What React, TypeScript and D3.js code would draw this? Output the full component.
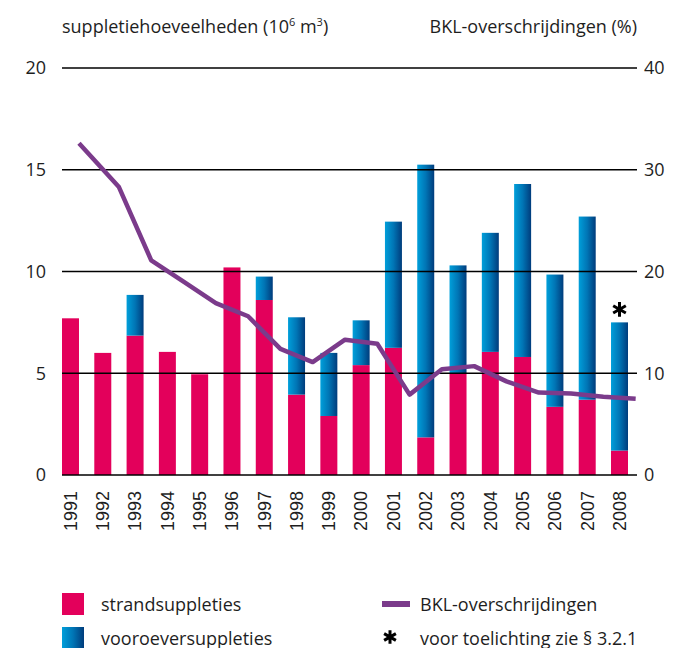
import React, { useEffect, useRef } from 'react';
import * as d3 from 'd3';

const years = [
  '1991', '1992', '1993', '1994', '1995', '1996', '1997', '1998', '1999',
  '2000', '2001', '2002', '2003', '2004', '2005', '2006', '2007', '2008'
];
// strandsuppleties (10^6 m3)
const strand = [7.7, 6.0, 6.85, 6.05, 4.95, 10.2, 8.6, 3.95, 2.9, 5.4, 6.25, 1.85, 5.0, 6.05, 5.8, 3.35, 3.7, 1.2];
// vooroeversuppleties (10^6 m3)
const vooroever = [0, 0, 2.0, 0, 0, 0, 1.15, 3.8, 3.1, 2.2, 6.2, 13.4, 5.3, 5.85, 8.5, 6.5, 9.0, 6.3];
// BKL-overschrijdingen (%)
const bkl = [32.6, 28.3, 21.1, 19.0, 16.9, 15.6, 12.4, 11.1, 13.3, 12.9, 7.9, 10.4, 10.7, 9.2, 8.1, 8.0, 7.7, 7.5];

const leftTicks = [0, 5, 10, 15, 20];
const rightTicks = [0, 10, 20, 30, 40];

const PINK = '#e3005b';
const PURPLE = '#7b3b8b';
const FONT = '"Open Sans", sans-serif';
const TEXT = '#1e1e1e';

const App = () => {
  const ref = useRef<SVGSVGElement>(null);

  useEffect(() => {
    const svg = d3.select(ref.current);
    svg.selectAll('*').remove();

    const plotLeft = 62;
    const plotRight = 637;
    const yLeft = d3.scaleLinear().domain([0, 20]).range([475, 68]);
    const yRight = d3.scaleLinear().domain([0, 40]).range([475, 68]);

    const x = d3.scaleBand<string>().domain(years).range([62, 628]).paddingInner(0.474).paddingOuter(0);
    const bw = x.bandwidth();
    const gap = x.step() - bw;

    const defs = svg.append('defs');
    const grad = defs.append('linearGradient').attr('id', 'blueGrad').attr('x1', '0%').attr('x2', '100%').attr('y1', '0%').attr('y2', '0%');
    grad.append('stop').attr('offset', '0%').attr('stop-color', '#009fda');
    grad.append('stop').attr('offset', '50%').attr('stop-color', '#0075b5');
    grad.append('stop').attr('offset', '100%').attr('stop-color', '#003c7c');

    const rows = years.map((y, i) => ({ year: y, strand: strand[i], vooroever: vooroever[i] }));
    const stacked = d3.stack<any>().keys(['strand', 'vooroever'])(rows);
    const fills = [PINK, 'url(#blueGrad)'];

    stacked.forEach((layer, li) => {
      svg.append('g')
        .selectAll('rect')
        .data(layer)
        .join('rect')
        .attr('x', (d: any) => x(d.data.year) as number)
        .attr('width', bw)
        .attr('y', (d: any) => yLeft(d[1]))
        .attr('height', (d: any) => yLeft(d[0]) - yLeft(d[1]))
        .attr('fill', fills[li]);
    });

    // gridlines
    svg.append('g')
      .selectAll('line')
      .data(leftTicks)
      .join('line')
      .attr('x1', plotLeft)
      .attr('x2', plotRight)
      .attr('y1', (d) => yLeft(d))
      .attr('y2', (d) => yLeft(d))
      .attr('stroke', '#000')
      .attr('stroke-width', 1.5);

    // left axis labels
    svg.append('g')
      .selectAll('text')
      .data(leftTicks)
      .join('text')
      .attr('x', 46)
      .attr('y', (d) => yLeft(d))
      .attr('dy', '0.35em')
      .attr('text-anchor', 'end')
      .attr('font-family', FONT)
      .attr('font-size', 18)
      .attr('fill', TEXT)
      .text((d) => d);

    // right axis labels
    svg.append('g')
      .selectAll('text')
      .data(rightTicks)
      .join('text')
      .attr('x', 644)
      .attr('y', (d) => yRight(d))
      .attr('dy', '0.35em')
      .attr('text-anchor', 'start')
      .attr('font-family', FONT)
      .attr('font-size', 18)
      .attr('fill', TEXT)
      .text((d) => d);

    // year labels
    svg.append('g')
      .selectAll('text')
      .data(years)
      .join('text')
      .attr('transform', (d) => `translate(${(x(d) as number) + bw / 2},491) rotate(-90)`)
      .attr('dy', '0.35em')
      .attr('text-anchor', 'end')
      .attr('font-family', '"Liberation Sans", Arial, sans-serif')
      .attr('font-size', 18)
      .attr('fill', TEXT)
      .text((d) => d);

    // BKL line
    const line = d3.line<number>()
      .x((d, i) => (x(years[i]) as number) + bw + (i === 0 ? 0 : gap / 2))
      .y((d) => yRight(d));
    svg.append('path')
      .datum(bkl)
      .attr('d', line)
      .attr('fill', 'none')
      .attr('stroke', PURPLE)
      .attr('stroke-width', 4.5)
      .attr('stroke-linejoin', 'round');

    // asterisk above 2008
    const last = years[years.length - 1];
    svg.append('path')
      .attr('d', d3.symbol().type(d3.symbolAsterisk).size(150)())
      .attr('transform', `translate(${(x(last) as number) + bw / 2},${yLeft(strand[17] + vooroever[17]) - 13})`)
      .attr('fill', 'none')
      .attr('stroke', '#000')
      .attr('stroke-width', 3);

    // axis titles
    const t1 = svg.append('text')
      .attr('x', 62)
      .attr('y', 33)
      .attr('font-family', FONT)
      .attr('font-size', 18)
      .attr('fill', TEXT);
    t1.append('tspan').text('suppletiehoeveelheden (10');
    t1.append('tspan').attr('font-size', 11).attr('dy', -7).text('6');
    t1.append('tspan').attr('dy', 7).text(' m');
    t1.append('tspan').attr('font-size', 11).attr('dy', -7).text('3');
    t1.append('tspan').attr('dy', 7).text(')');

    svg.append('text')
      .attr('x', 637)
      .attr('y', 33)
      .attr('text-anchor', 'end')
      .attr('font-family', FONT)
      .attr('font-size', 18)
      .attr('fill', TEXT)
      .text('BKL-overschrijdingen (%)');

    // legend
    const leg = svg.append('g').attr('font-family', FONT).attr('font-size', 18).attr('fill', TEXT);
    leg.append('rect').attr('x', 62).attr('y', 593).attr('width', 22).attr('height', 22).attr('fill', PINK);
    leg.append('text').attr('x', 101).attr('y', 611).text('strandsuppleties');
    leg.append('rect').attr('x', 62).attr('y', 627).attr('width', 22).attr('height', 22).attr('fill', 'url(#blueGrad)');
    leg.append('text').attr('x', 101).attr('y', 645).text('vooroeversuppleties');

    leg.append('line').attr('x1', 382).attr('x2', 410).attr('y1', 604).attr('y2', 604).attr('stroke', PURPLE).attr('stroke-width', 6);
    leg.append('text').attr('x', 420).attr('y', 611).text('BKL-overschrijdingen');
    leg.append('path')
      .attr('d', d3.symbol().type(d3.symbolAsterisk).size(130)())
      .attr('transform', 'translate(390,637)')
      .attr('fill', 'none')
      .attr('stroke', '#000')
      .attr('stroke-width', 3);
    leg.append('text').attr('x', 420).attr('y', 645).text('voor toelichting zie § 3.2.1');
  }, []);

  return (
    <svg
      ref={ref}
      width={687}
      height={648}
      style={{ position: 'absolute', left: 0, top: 0, background: '#fff' }}
    />
  );
};

export default App;
